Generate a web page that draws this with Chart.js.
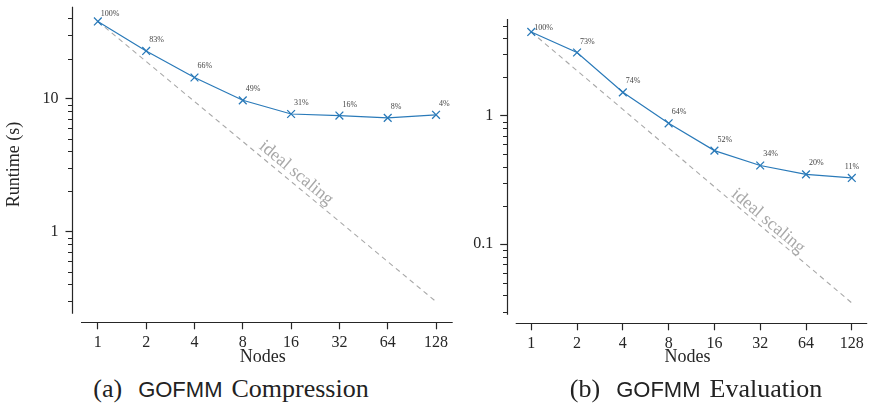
<!DOCTYPE html>
<html>
<head>
<meta charset="utf-8">
<script src="https://cdn.jsdelivr.net/npm/chart.js@4.4.0/dist/chart.umd.min.js"></script>
<style>
  body { margin: 0; background: #fff; width: 874px; height: 410px; position: relative; overflow: hidden; }
  canvas { position: absolute; top: 0; }
  #compression { left: 0; }
  #evaluation { left: 440px; }
  .cap { position: absolute; top: 374px; line-height: 30px; transform: translateX(-50%);
         font-family: "Liberation Serif", serif; font-size: 26px; color: #222; white-space: nowrap; }
  .cap .sf { font-family: "Liberation Sans", sans-serif; font-size: 22px; margin-left: 16px; margin-right: 9px; }
</style>
</head>
<body>
<canvas id="compression" width="460" height="370"></canvas>
<canvas id="evaluation" width="434" height="370"></canvas>
<div class="cap" style="left:231px">(a)<span class="sf">GOFMM</span>Compression</div>
<div class="cap" style="left:696px">(b)<span class="sf">GOFMM</span>Evaluation</div>
<script>
// x categories (number of nodes)
const nodes = [1, 2, 4, 8, 16, 32, 64, 128];
const xTickLabels = ['1', '2', '4', '8', '16', '32', '64', '128'];

// (a) compression runtime in seconds, ideal scaling line, parallel efficiency
const compressionRuntime = [38, 22.8, 14.4, 9.7, 7.65, 7.45, 7.15, 7.55];
const compressionIdeal = [38, 19, 9.5, 4.75, 2.375, 1.19, 0.594, 0.297];
const compressionEfficiency = [100, 83, 66, 49, 31, 16, 8, 4];
const compressionYTicks = [1, 10];

// (b) evaluation
const evaluationRuntime = [4.48, 3.1, 1.52, 0.873, 0.535, 0.41, 0.35, 0.328];
const evaluationIdeal = [4.48, 2.24, 1.12, 0.56, 0.28, 0.14, 0.07, 0.035];
const evaluationEfficiency = [100, 73, 74, 64, 52, 34, 20, 11];
const evaluationYTicks = [0.1, 1];

const BLUE = '#2a7ab9';
const DARK = '#262626';
const GREY = '#a8a8a8';
const SERIF = '"Liberation Serif", serif';

// minor ticks for a log axis between min and max (1..9 x 10^k)
function minorTicks(min, max) {
  const out = [];
  for (let k = Math.floor(Math.log10(min)); k <= Math.ceil(Math.log10(max)); k++) {
    for (let m = 2; m <= 9; m++) {
      const v = m * Math.pow(10, k);
      if (v >= min && v <= max) out.push(v);
    }
  }
  return out;
}

// no extra room for edge labels, the chart area is set by the layout padding
function noEdgePadding(s) {
  s.paddingTop = 0; s.paddingBottom = 0; s.paddingLeft = 0; s.paddingRight = 0;
}

// offset spines, minor ticks, percentage labels and the "ideal scaling" note
const decorations = {
  id: 'decorations',
  afterDraw(chart, args, o) {
    const { ctx, chartArea: a, scales } = chart;
    ctx.save();
    ctx.strokeStyle = DARK;
    ctx.lineWidth = 1.2;
    const lx = Math.round(a.left) - 0.5;
    const by = Math.round(a.bottom) + 0.5;
    ctx.beginPath();
    ctx.moveTo(lx, a.top);
    ctx.lineTo(lx, a.bottom - 8.5);
    ctx.moveTo(a.left + 8, by);
    ctx.lineTo(a.right, by);
    ctx.stroke();

    ctx.lineWidth = 1;
    ctx.beginPath();
    minorTicks(scales.y.min, scales.y.max).forEach(v => {
      const y = Math.round(scales.y.getPixelForValue(v)) + 0.5;
      if (y > a.bottom - 8.5) return;
      ctx.moveTo(lx - 4.5, y);
      ctx.lineTo(lx, y);
    });
    ctx.stroke();

    // efficiency labels
    const pts = chart.getDatasetMeta(0).data;
    ctx.fillStyle = '#444';
    ctx.font = '8px ' + SERIF;
    ctx.textBaseline = 'alphabetic';
    pts.forEach((p, i) => {
      let dx = 3, dy = -9;
      if (i === 0) dy = o.firstDy;
      if (i === pts.length - 1) dx = o.lastDx;
      ctx.fillText(o.efficiency[i] + '%', p.x + dx, p.y + dy);
    });

    // rotated note along the ideal scaling line
    const ideal = chart.getDatasetMeta(1).data;
    const p0 = ideal[0], p1 = ideal[ideal.length - 1];
    const ang = Math.atan2(p1.y - p0.y, p1.x - p0.x);
    const cx = p0.x + o.noteT * (p1.x - p0.x) + o.noteD * Math.sin(ang);
    const cy = p0.y + o.noteT * (p1.y - p0.y) - o.noteD * Math.cos(ang);
    ctx.translate(cx, cy);
    ctx.rotate(ang);
    ctx.fillStyle = GREY;
    ctx.font = '18px ' + SERIF;
    ctx.textAlign = 'center';
    ctx.textBaseline = 'middle';
    ctx.fillText('ideal scaling', 0, 0);
    ctx.restore();
  }
};

function makeChart(id, cfg) {
  return new Chart(document.getElementById(id), {
    type: 'line',
    data: {
      datasets: [
        {
          data: nodes.map((n, i) => ({ x: n, y: cfg.runtime[i] })),
          borderColor: BLUE,
          borderWidth: 1.2,
          pointStyle: 'crossRot',
          pointRadius: 5.5,
          pointBorderWidth: 1.3,
          pointBorderColor: BLUE,
          fill: false
        },
        {
          data: nodes.map((n, i) => ({ x: n, y: cfg.ideal[i] })),
          borderColor: GREY,
          borderWidth: 1.1,
          borderDash: [5, 4],
          pointRadius: 0,
          fill: false
        }
      ]
    },
    options: {
      responsive: false,
      animation: false,
      layout: { padding: { left: 0, top: cfg.top, right: cfg.right, bottom: 0 } },
      plugins: {
        legend: { display: false },
        tooltip: { enabled: false },
        decorations: {
          efficiency: cfg.efficiency,
          firstDy: cfg.firstDy,
          lastDx: cfg.lastDx,
          noteT: cfg.noteT,
          noteD: cfg.noteD
        }
      },
      scales: {
        x: {
          type: 'logarithmic',
          min: cfg.xMin,
          max: cfg.xMax,
          afterBuildTicks: s => { s.ticks = nodes.map(v => ({ value: v })); },
          afterFit: s => { s.height = 370 - cfg.bottom; noEdgePadding(s); },
          border: { display: false },
          grid: { drawOnChartArea: false, tickLength: 7, tickColor: DARK, tickWidth: 1.2 },
          ticks: {
            autoSkip: false, maxRotation: 0, padding: 4.3, color: DARK,
            font: { family: SERIF, size: 16 },
            callback: (v, i) => xTickLabels[i]
          },
          title: {
            display: true, text: 'Nodes', color: DARK,
            font: { family: SERIF, size: 18 },
            padding: { top: 0, bottom: 1.8 }
          }
        },
        y: {
          type: 'logarithmic',
          min: cfg.yMin,
          max: cfg.yMax,
          afterBuildTicks: s => { s.ticks = cfg.yTicks.map(v => ({ value: v })); },
          afterFit: s => { s.width = cfg.left; noEdgePadding(s); },
          border: { display: false },
          grid: { drawOnChartArea: false, tickLength: 7.5, tickColor: DARK, tickWidth: 1.2 },
          ticks: {
            autoSkip: false, padding: 7, color: DARK,
            font: { family: SERIF, size: 16 },
            callback: v => String(v)
          },
          title: {
            display: cfg.yTitle, text: 'Runtime (s)', color: DARK,
            font: { family: SERIF, size: 18 },
            padding: { top: 3.7, bottom: 0 }
          }
        }
      }
    },
    plugins: [decorations]
  });
}

makeChart('compression', {
  runtime: compressionRuntime, ideal: compressionIdeal, efficiency: compressionEfficiency,
  yTicks: compressionYTicks, yTitle: true,
  xMin: 0.701, xMax: 162.6, yMin: 0.2076, yMax: 48.98,
  left: 73, top: 5, right: 7.3, bottom: 322.3,
  firstDy: -5, lastDx: 3, noteT: 0.568, noteD: 9.8
});

makeChart('evaluation', {
  runtime: evaluationRuntime, ideal: evaluationIdeal, efficiency: evaluationEfficiency,
  yTicks: evaluationYTicks, yTitle: false,
  xMin: 0.711, xMax: 161.6, yMin: 0.0243, yMax: 5.65,
  left: 67.7, top: 19, right: 1, bottom: 323.3,
  firstDy: -2, lastDx: -7, noteT: 0.722, noteD: 8.55
});
</script>
</body>
</html>
